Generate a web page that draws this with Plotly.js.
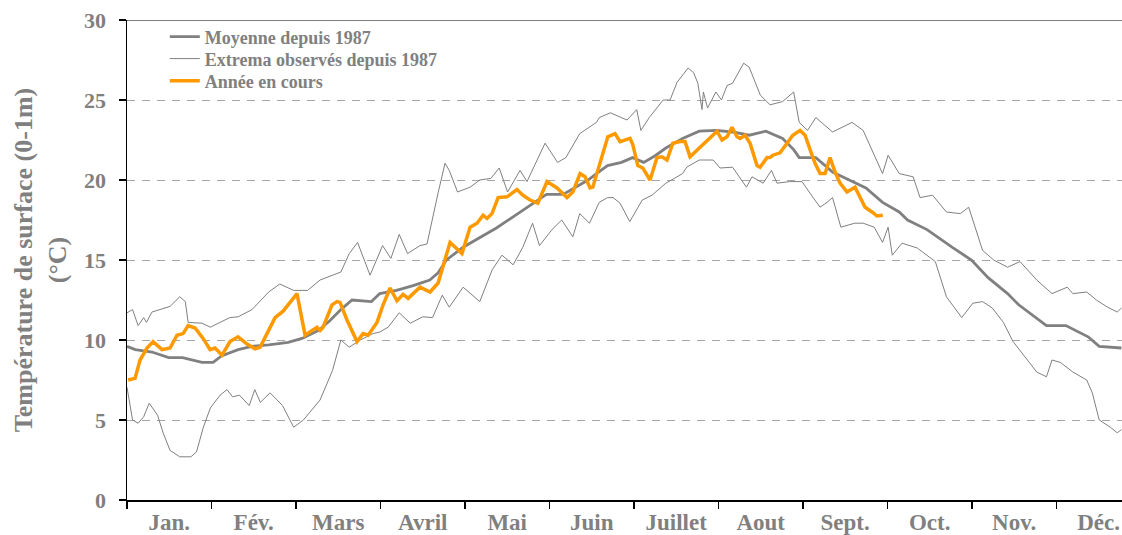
<!DOCTYPE html>
<html>
<head>
<meta charset="utf-8">
<script src="https://cdn.plot.ly/plotly-3.0.1.min.js"></script>
<style>html,body{margin:0;padding:0;background:#fff;}#chart{width:1122px;height:535px;}</style>
</head>
<body>
<div id="chart"></div>
<script>
// Month labels (equal-width months on the axis)
const months = ['Jan.','Fév.','Mars','Avril','Mai','Juin','Juillet','Aout','Sept.','Oct.','Nov.','Déc.'];
const yTicks = [0,5,10,15,20,25,30];

// Moyenne depuis 1987 (day of year, °C)
const meanDay = [0,3,9,15,20,27,31,34,40,45,51,58,63,69,73,77,81,88,91,97,103,109,112,115,121,127,133,139,145,151,157,160,166,169,173,178,182,186,190,194,200,206,212,218,224,230,236,240,242,248,254,260,266,272,278,281,288,297,304,310,317,321,331,338,346,350,358];
const meanVal = [9.6,9.4,9.25,8.9,8.9,8.6,8.6,9.0,9.4,9.6,9.7,9.85,10.1,10.6,11.2,11.9,12.5,12.4,12.9,13.1,13.4,13.75,14.2,15.0,15.8,16.4,17.0,17.7,18.4,19.1,19.1,19.4,20.0,20.4,20.9,21.1,21.4,21.1,21.5,22.0,22.6,23.05,23.1,23.0,22.8,23.05,22.6,21.9,21.4,21.4,20.5,20.0,19.5,18.6,18.0,17.5,16.9,15.8,15.0,13.9,12.9,12.2,10.9,10.9,10.2,9.6,9.5];

// Extrema observés depuis 1987 : maximum
const maxDay = [0,2,4,6,7,9,15.5,19,21,22,27,30,37,40,45,51,55,60,65,69.5,77,80,83,87.5,92,95,98,101,105.5,108,112,114.5,116,119,123.5,127,131,134,137,141.5,144,150.5,155,158,163,169,170,174,180,183.5,185,188,193,195.5,198,202,204,205.5,207,207.5,209,212,214,216,218,222,224,228,231.5,236,240,242,245,248,254,261,265,268.5,272,274,278,283,285.5,290,295,300,303,304.5,308,312,317,321.5,327.5,333,338.5,340.5,345.5,349,353,356.5,358];
const maxVal = [11.7,11.9,10.9,11.4,11.1,11.75,12.1,12.7,12.4,11.1,11.05,10.8,11.4,11.45,11.9,13.0,13.5,13.1,13.1,13.75,14.25,15.4,16.1,14.05,15.9,15.1,16.6,15.4,15.9,16.0,19.2,21.05,20.6,19.25,19.55,20.0,20.1,20.75,19.25,20.6,19.9,22.3,21.1,21.4,22.9,23.6,23.9,24.2,23.75,24.4,23.1,23.9,25.0,25.0,26.1,27.0,26.7,26.05,24.4,25.5,24.5,25.5,25.0,25.9,26.05,27.3,27.05,25.3,24.7,24.9,25.5,23.6,23.1,23.9,23.0,23.6,23.1,21.7,20.4,21.55,20.4,20.2,18.9,19.05,18.0,17.9,18.3,17.5,15.6,15.0,14.55,14.9,13.75,12.9,13.3,12.9,13.0,12.5,12.05,11.75,12.0];

// Extrema observés depuis 1987 : minimum
const minDay = [0,2,4,6,8,11,13,15.5,19,23,25,27.5,30,33.5,36,38,40.5,44,46,48,51.5,56,60,63.5,69.5,74,77,80,84,88.5,91,94,98,102,106.5,110,113.5,116,121,127,131.5,135,139,142.5,146,148.5,153,156.5,160.5,163,166.5,170,173,175,177.5,181,185.5,189,194,198,200,201.5,206,211,213.5,218,223,225,229,232,234,238.5,243,247,249.5,252,254,257,262,265,269,272,274,275.5,279,284.5,288,291,295,300.5,304.5,308,311.5,315.5,319,325,327.5,331,333,336,340.5,345.5,347.5,350,354,356.5,358];
const minVal = [7.05,5.0,4.8,5.2,6.05,5.3,4.2,3.1,2.7,2.7,3.0,4.55,5.75,6.55,6.9,6.45,6.55,5.9,6.9,6.1,6.7,5.9,4.55,5.0,6.25,8.1,10.0,9.55,10.0,10.4,10.5,10.8,11.7,11.05,11.45,11.4,12.8,12.05,13.3,12.4,14.4,15.3,14.7,15.8,17.3,15.9,16.9,17.5,16.45,17.9,17.3,18.6,18.9,18.9,18.55,17.4,18.75,19.05,19.8,20.2,20.4,20.8,21.25,21.25,20.75,20.8,19.55,20.2,19.8,20.6,19.8,19.9,19.9,18.9,18.3,18.6,18.9,17.05,17.3,17.3,17.05,16.1,17.05,15.3,16.05,15.75,15.3,14.9,12.7,11.4,12.3,12.4,12.0,11.1,9.9,8.55,8.0,7.7,8.75,8.6,8.0,7.5,6.7,5.0,4.55,4.2,4.4];

// Année en cours
const curDay = [0.4,2.9,4.7,7.2,9.4,10.8,12.6,15.5,18,20.2,22,24.5,27.4,29.9,31.7,34.2,37.1,40,43.2,46.1,47.9,50.4,53.3,56.2,61.2,64.1,66.9,68.4,69.5,70.6,73.8,75.6,76.7,79.2,82.8,85,86.8,90,92.2,94.7,97.2,99.4,101.2,105.5,109.1,112,116.3,118.1,120.6,123.5,126,128.2,129.6,131.4,133.6,136.8,140.4,142.5,145.1,147.9,151.2,154.8,158.4,160.5,163.1,164.9,166.7,167.7,171,173.1,175.7,177.5,181.1,182.1,183.9,185.7,188.3,190.8,192.6,194.4,196.5,199.1,200.9,202.7,212.4,214.2,216,217.8,219.6,220.7,222.5,224.3,226.8,227.9,230.4,231.5,232.5,235.1,237.6,239.7,242.3,244.1,245.9,247.7,249.5,251.3,253.1,254.9,256.7,259.2,262.1,263.9,265.7,268.2,270,272.1];
const curVal = [7.5,7.6,8.75,9.5,9.9,9.7,9.4,9.5,10.3,10.4,10.9,10.75,10.1,9.4,9.5,9.05,9.9,10.2,9.75,9.45,9.55,10.4,11.4,11.8,12.9,10.3,10.6,10.8,10.6,10.8,12.2,12.4,12.35,11.25,9.9,10.4,10.3,11.1,12.2,13.25,12.45,12.85,12.6,13.3,13.0,13.56,16.1,15.8,15.4,17.05,17.3,17.8,17.6,17.9,18.9,18.95,19.4,19.05,18.75,18.55,19.9,19.5,18.9,19.25,20.4,20.2,19.5,19.55,21.4,22.7,22.9,22.4,22.6,22.2,20.9,20.75,20.0,21.4,21.45,21.25,22.3,22.4,22.4,21.45,23.05,22.5,22.7,23.3,22.7,22.6,22.8,22.3,20.9,20.8,21.4,21.4,21.55,21.7,22.3,22.8,23.1,22.8,21.9,21.05,20.4,20.4,21.4,20.5,19.8,19.25,19.55,18.95,18.3,18.0,17.75,17.8];

const monthLen = 365 / 12;
const boundaries = months.map((m, i) => i * monthLen);
const centers = months.map((m, i) => (i + 0.5) * monthLen);
const xRange = [0, 358.2];

const GRAY = '#808080';
const FONT = 'Liberation Serif, Times New Roman, serif';
const legendFont = {family: FONT, size: 18, color: GRAY, weight: 'bold'};

const traces = [
  {x: maxDay, y: maxVal, type: 'scatter', mode: 'lines', name: 'Extrema observés depuis 1987',
   legend: 'legend2', legendgroup: 'ext', showlegend: true, line: {color: GRAY, width: 1}},
  {x: minDay, y: minVal, type: 'scatter', mode: 'lines', name: 'Extrema observés depuis 1987',
   legend: 'legend2', legendgroup: 'ext', showlegend: false, line: {color: GRAY, width: 1}},
  {x: meanDay, y: meanVal, type: 'scatter', mode: 'lines', name: 'Moyenne depuis 1987',
   legend: 'legend', line: {color: GRAY, width: 2.8}},
  {x: curDay, y: curVal, type: 'scatter', mode: 'lines', name: 'Année en cours', xaxis: 'x2',
   legend: 'legend3', line: {color: '#FF9900', width: 3.5}}
];

function leg(y) {
  return {x: 0.038, y: y, xanchor: 'left', yanchor: 'middle', bgcolor: 'rgba(0,0,0,0)',
          borderwidth: 0, font: legendFont, itemwidth: 30};
}

const layout = {
  width: 1122, height: 535,
  margin: {l: 127, r: 0, t: 20, b: 35, pad: 0},
  paper_bgcolor: '#fff', plot_bgcolor: '#fff',
  showlegend: true,
  legend: leg(0.9646),
  legend2: leg(0.919),
  legend3: leg(0.873),
  xaxis: {range: xRange, tickmode: 'array', tickvals: boundaries, ticktext: boundaries.map(() => ''),
          ticks: 'outside', ticklen: 7, tickwidth: 1.5, tickcolor: '#000',
          showline: true, linecolor: '#000', linewidth: 1.5, showgrid: false, zeroline: false,
          fixedrange: true},
  xaxis2: {range: xRange, overlaying: 'x', anchor: 'y', side: 'bottom', tickmode: 'array',
           tickvals: centers, ticktext: months, ticks: '', showline: false, showgrid: false,
           zeroline: false, ticklabelstandoff: 6,
           tickfont: {family: FONT, size: 23, color: GRAY, weight: 'bold'}},
  yaxis: {range: [0, 30], tickmode: 'array', tickvals: yTicks, ticktext: yTicks.map(String),
          ticks: 'outside', ticklen: 7, tickwidth: 1.5, tickcolor: '#000',
          showline: true, linecolor: '#000', linewidth: 1.5, zeroline: false,
          showgrid: true, gridcolor: '#a6a6a6', gridwidth: 1, griddash: '8px,7px',
          ticklabelstandoff: 8,
          tickfont: {family: FONT, size: 22, color: GRAY, weight: 'bold'},
          title: {text: 'Température de surface (0-1m)<br>(°C)', standoff: 10,
                  font: {family: FONT, size: 26, color: GRAY, weight: 'bold'}}},
  shapes: [{type: 'line', xref: 'paper', yref: 'y', x0: 0, x1: 1, y0: 30, y1: 30,
            line: {color: '#555', width: 1.5}}]
};

Plotly.newPlot('chart', traces, layout, {displayModeBar: false, staticPlot: true});
</script>
</body>
</html>
